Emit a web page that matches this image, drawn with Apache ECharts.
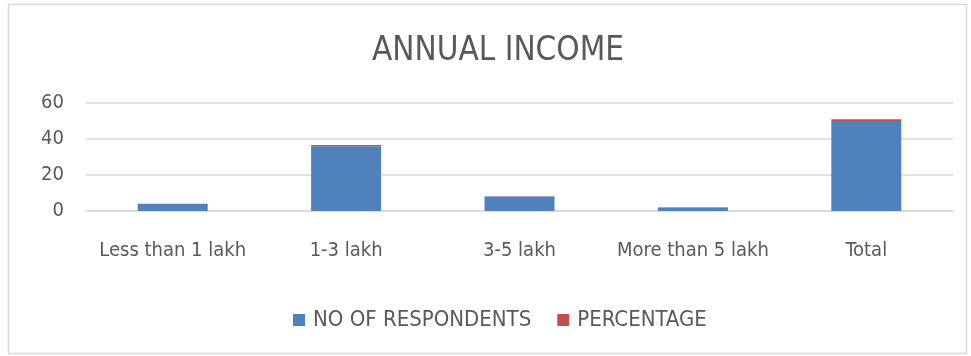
<!DOCTYPE html>
<html>
<head>
<meta charset="utf-8">
<script src="https://cdn.jsdelivr.net/npm/echarts@6/dist/echarts.min.js"></script>
<style>
  html, body { margin: 0; padding: 0; background: #fff; }
  #chart { width: 971px; height: 356px; }
</style>
</head>
<body>
<div id="chart"></div>
<script>
// Annual income brackets of the surveyed respondents
const categories = ['Less than 1 lakh', '1-3 lakh', '3-5 lakh', 'More than 5 lakh', 'Total'];
const respondents = [4, 36, 8, 2, 50];
const percentage = [0.08, 0.72, 0.16, 0.04, 1];
const yTicks = [0, 20, 40, 60];

const FONT = '"Liberation Sans Narrow", "DejaVu Sans Condensed", sans-serif';
const TEXT = '#595959';

const chart = echarts.init(document.getElementById('chart'), null, { renderer: 'canvas' });

chart.setOption({
  animation: false,
  backgroundColor: '#fff',
  title: {
    text: 'ANNUAL INCOME',
    left: 493,
    textAlign: 'center',
    top: 30,
    textStyle: { fontFamily: FONT, fontSize: 33, fontWeight: 'normal', color: TEXT }
  },
  graphic: [{
    type: 'rect',
    shape: { x: 8.5, y: 4.5, width: 958, height: 349 },
    style: { fill: 'none', stroke: '#d9d9d9', lineWidth: 1.5 },
    silent: true
  }],
  legend: {
    data: ['NO OF RESPONDENTS', 'PERCENTAGE'],
    left: 288,
    top: 304,
    itemWidth: 12,
    itemHeight: 12,
    itemGap: 26,
    icon: 'rect',
    textStyle: { fontFamily: FONT, fontSize: 22, color: TEXT, padding: [0, 0, 0, 3] }
  },
  grid: { left: 86, right: 18, top: 103, bottom: 145, containLabel: false },
  xAxis: {
    type: 'category',
    data: categories,
    axisLine: { show: true, lineStyle: { color: '#d9d9d9', width: 1.5 } },
    axisTick: { show: false },
    axisLabel: { fontFamily: FONT, fontSize: 20, color: TEXT, margin: 30, interval: 0 }
  },
  yAxis: {
    type: 'value',
    min: yTicks[0],
    max: yTicks[yTicks.length - 1],
    interval: yTicks[1] - yTicks[0],
    axisLine: { show: false },
    axisTick: { show: false },
    splitLine: { lineStyle: { color: '#d9d9d9', width: 1.5 } },
    axisLabel: { fontFamily: FONT, fontSize: 20, color: TEXT, margin: 22 }
  },
  series: [
    {
      name: 'NO OF RESPONDENTS',
      type: 'bar',
      stack: 'income',
      data: respondents,
      barWidth: 70,
      itemStyle: { color: '#4F81BD' }
    },
    {
      name: 'PERCENTAGE',
      type: 'bar',
      stack: 'income',
      data: percentage,
      barWidth: 70,
      itemStyle: { color: '#C0504D' }
    }
  ]
});
</script>
</body>
</html>
